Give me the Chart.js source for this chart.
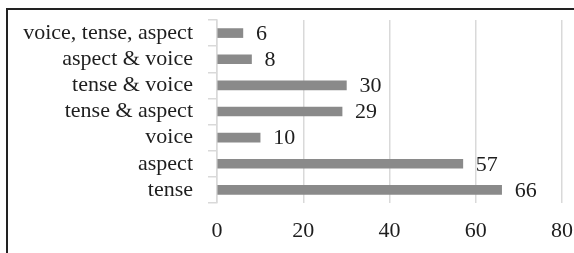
<!DOCTYPE html>
<html>
<head>
<meta charset="utf-8">
<script src="https://cdn.jsdelivr.net/npm/chart.js@4"></script>
<style>
  html, body { margin: 0; padding: 0; background: #fff; }
  #frame {
    position: absolute; left: 0; top: 0; width: 574px; height: 253px;
  }
  #border {
    position: absolute; left: 6px; top: 8px; width: 568px; height: 245px;
    border-top: 2px solid #222; border-left: 2px solid #222; box-sizing: border-box;
    pointer-events: none;
  }
</style>
</head>
<body>
<div id="frame">
  <canvas id="chart" width="574" height="253"></canvas>
  <div id="border"></div>
</div>
<script>
// categories top to bottom, matching values
const categories = ['voice, tense, aspect', 'aspect & voice', 'tense & voice', 'tense & aspect', 'voice', 'aspect', 'tense'];
const counts = [6, 8, 30, 29, 10, 57, 66];
const xTicks = [0, 20, 40, 60, 80];

const FONT = "'Liberation Serif', 'DejaVu Serif', serif";

// draws the value to the right of each bar
const valueLabels = {
    id: 'valueLabels',
    afterDatasetsDraw(chart) {
        const ctx = chart.ctx;
        const meta = chart.getDatasetMeta(0);
        ctx.save();
        ctx.font = `22px ${FONT}`;
        ctx.fillStyle = '#1e1e1e';
        ctx.textAlign = 'left';
        ctx.textBaseline = 'middle';
        meta.data.forEach((bar, i) => {
            ctx.fillText(String(counts[i]), bar.x + 13, bar.y + 1);
        });
        ctx.restore();
    }
};

new Chart(document.getElementById('chart'), {
    type: 'bar',
    data: {
        labels: categories,
        datasets: [{
            data: counts,
            backgroundColor: '#8a8a8a',
            borderWidth: 0,
            barThickness: 9
        }]
    },
    options: {
        indexAxis: 'y',
        responsive: false,
        animation: false,
        layout: { padding: { top: 20, right: 12, bottom: 0, left: 0 } },
        plugins: {
            legend: { display: false },
            tooltip: { enabled: false }
        },
        scales: {
            x: {
                min: 0,
                max: 80,
                afterBuildTicks: (axis) => { axis.ticks = xTicks.map(v => ({ value: v })); },
                afterFit: (axis) => {
                    axis.height = 50;
                    axis.paddingLeft = 0;
                    axis.paddingRight = 0;
                },
                grid: { color: '#d9d9d9', lineWidth: 1.5, drawTicks: false },
                border: { display: false },
                ticks: { color: '#1e1e1e', font: { family: FONT, size: 22 }, padding: 15 }
            },
            y: {
                afterFit: (axis) => {
                    axis.width = 217;
                    axis.paddingTop = 0;
                    axis.paddingBottom = 0;
                },
                grid: { display: true, drawOnChartArea: false, drawTicks: true, tickLength: 9, color: '#d9d9d9', lineWidth: 1.5, offset: true },
                border: { display: true, color: '#d9d9d9', width: 1.5 },
                ticks: { color: '#1e1e1e', font: { family: FONT, size: 22 }, padding: 15, autoSkip: false }
            }
        }
    },
    plugins: [valueLabels]
});
</script>
</body>
</html>
